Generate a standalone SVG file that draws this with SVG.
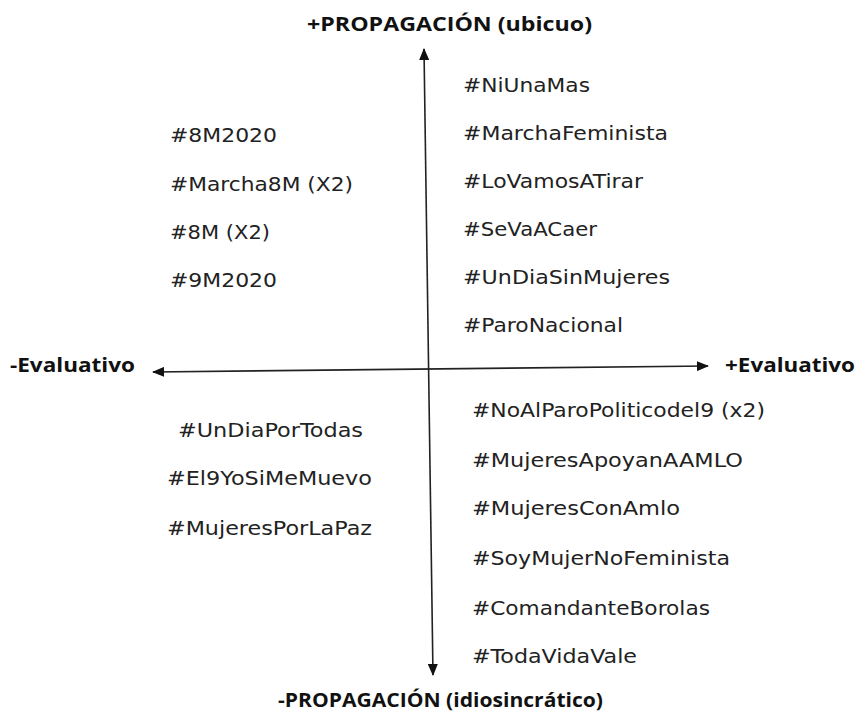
<svg xmlns="http://www.w3.org/2000/svg" width="860" height="714" viewBox="0 0 860 714">
<style>
.t{font-family:"DejaVu Sans","Liberation Sans",sans-serif;font-size:19px;fill:#222}
.b{font-family:"Open Sans","Liberation Sans",sans-serif;font-size:19px;font-weight:bold;fill:#111}
.ax{stroke:#222;stroke-width:1.6;fill:none}
</style>
<defs>
<marker id="ah" viewBox="0 0 12 10" refX="11" refY="5" markerWidth="12" markerHeight="10" markerUnits="userSpaceOnUse" orient="auto-start-reverse">
<path d="M0,0 L12,5 L0,10 Z" fill="#111"/>
</marker>
</defs>
<rect width="860" height="714" fill="#fff"/>
<g id="connectors">
<line class="ax" x1="424" y1="49" x2="433" y2="675" marker-start="url(#ah)" marker-end="url(#ah)"/>
<line class="ax" x1="153" y1="372" x2="708" y2="366" marker-start="url(#ah)" marker-end="url(#ah)"/>
</g>
<g id="axis-labels">
<text class="b" x="307" y="31" textLength="285" lengthAdjust="spacingAndGlyphs">+PROPAGACIÓN (ubicuo)</text>
<text class="b" x="278" y="707" textLength="325" lengthAdjust="spacingAndGlyphs">-PROPAGACIÓN (idiosincrático)</text>
<text class="b" x="10" y="372" textLength="125" lengthAdjust="spacingAndGlyphs">-Evaluativo</text>
<text class="b" x="725" y="372" textLength="130" lengthAdjust="spacingAndGlyphs">+Evaluativo</text>
</g>
<g id="q-top-left">
<text class="t" x="170" y="142" textLength="107" lengthAdjust="spacingAndGlyphs">#8M2020</text>
<text class="t" x="170" y="191" textLength="183" lengthAdjust="spacingAndGlyphs">#Marcha8M (X2)</text>
<text class="t" x="170" y="239" textLength="100" lengthAdjust="spacingAndGlyphs">#8M (X2)</text>
<text class="t" x="170" y="287" textLength="107" lengthAdjust="spacingAndGlyphs">#9M2020</text>
</g>
<g id="q-top-right">
<text class="t" x="463" y="92" textLength="127" lengthAdjust="spacingAndGlyphs">#NiUnaMas</text>
<text class="t" x="463" y="140" textLength="205" lengthAdjust="spacingAndGlyphs">#MarchaFeminista</text>
<text class="t" x="463" y="188" textLength="180" lengthAdjust="spacingAndGlyphs">#LoVamosATirar</text>
<text class="t" x="463" y="236" textLength="134" lengthAdjust="spacingAndGlyphs">#SeVaACaer</text>
<text class="t" x="463" y="284" textLength="207" lengthAdjust="spacingAndGlyphs">#UnDiaSinMujeres</text>
<text class="t" x="463" y="332" textLength="160" lengthAdjust="spacingAndGlyphs">#ParoNacional</text>
</g>
<g id="q-bottom-left">
<text class="t" x="178" y="437" textLength="185" lengthAdjust="spacingAndGlyphs">#UnDiaPorTodas</text>
<text class="t" x="167" y="485" textLength="205" lengthAdjust="spacingAndGlyphs">#El9YoSiMeMuevo</text>
<text class="t" x="167" y="535" textLength="205" lengthAdjust="spacingAndGlyphs">#MujeresPorLaPaz</text>
</g>
<g id="q-bottom-right">
<text class="t" x="472" y="417" textLength="293" lengthAdjust="spacingAndGlyphs">#NoAlParoPoliticodel9 (x2)</text>
<text class="t" x="472" y="467" textLength="271" lengthAdjust="spacingAndGlyphs">#MujeresApoyanAAMLO</text>
<text class="t" x="472" y="515" textLength="208" lengthAdjust="spacingAndGlyphs">#MujeresConAmlo</text>
<text class="t" x="472" y="565" textLength="258" lengthAdjust="spacingAndGlyphs">#SoyMujerNoFeminista</text>
<text class="t" x="472" y="615" textLength="238" lengthAdjust="spacingAndGlyphs">#ComandanteBorolas</text>
<text class="t" x="472" y="663" textLength="165" lengthAdjust="spacingAndGlyphs">#TodaVidaVale</text>
</g>
</svg>
